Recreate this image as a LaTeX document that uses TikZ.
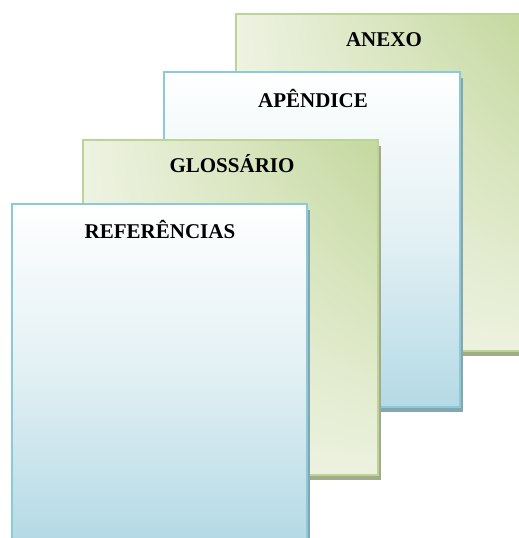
\documentclass[tikz,border=0pt]{standalone}
\usepackage{fontspec}
\setmainfont{Liberation Serif}
\usetikzlibrary{shadings}
\definecolor{gDark}{HTML}{C4D89E}
\definecolor{gMid}{HTML}{DCE7C4}
\definecolor{gLight}{HTML}{EEF3E2}
\definecolor{gBorder}{HTML}{BCD596}
\definecolor{gShadow}{HTML}{A2AC8A}
\definecolor{bBottom}{HTML}{B4DAE5}
\definecolor{bMid}{HTML}{E2F0F4}
\definecolor{bBorder}{HTML}{8CCADA}
\definecolor{bShadow}{HTML}{86A6AE}
\tikzset{
  lbl/.style={font=\bfseries\fontsize{21}{24}\selectfont, text=black, inner sep=0pt},
  greencard/.style={upper right=gDark, upper left=gLight, lower left=gLight, lower right=gLight!90!gMid},
  bluecard/.style={top color=white, bottom color=bBottom, middle color=bMid},
  cardline/.style={line width=2.8pt},
}
\begin{document}
\begin{tikzpicture}[x=1pt,y=-1pt]
\useasboundingbox (0,0) rectangle (519,538);
% ANEXO (green)
\fill[gShadow] (239,20) rectangle (526,356);
\shade[greencard] (236,14) rectangle (523,351);
\draw[gBorder, cardline] (236,14) rectangle (523,351);
\node[lbl] (anexo) at (384,40) {ANEXO};
% APENDICE (blue)
\fill[bShadow] (167,78) rectangle (463,412);
\shade[bluecard] (164,72) rectangle (460,407);
\draw[bBorder, cardline] (164,72) rectangle (460,407);
\node[lbl] (apendice) at (313,98) {APÊNDICE};
% GLOSSARIO (green)
\fill[gShadow] (86,146) rectangle (381,480);
\shade[greencard] (83,140) rectangle (378,475);
\draw[gBorder, cardline] (83,140) rectangle (378,475);
\node[lbl] (glossario) at (232,164) {GLOSSÁRIO};
% REFERENCIAS (blue)
\fill[bShadow] (15,210) rectangle (310,545);
\shade[bluecard] (12,204) rectangle (307,540);
\draw[bBorder, cardline] (12,204) rectangle (307,540);
\node[lbl] (referencias) at (160,229) {REFERÊNCIAS};
\end{tikzpicture}
\end{document}
